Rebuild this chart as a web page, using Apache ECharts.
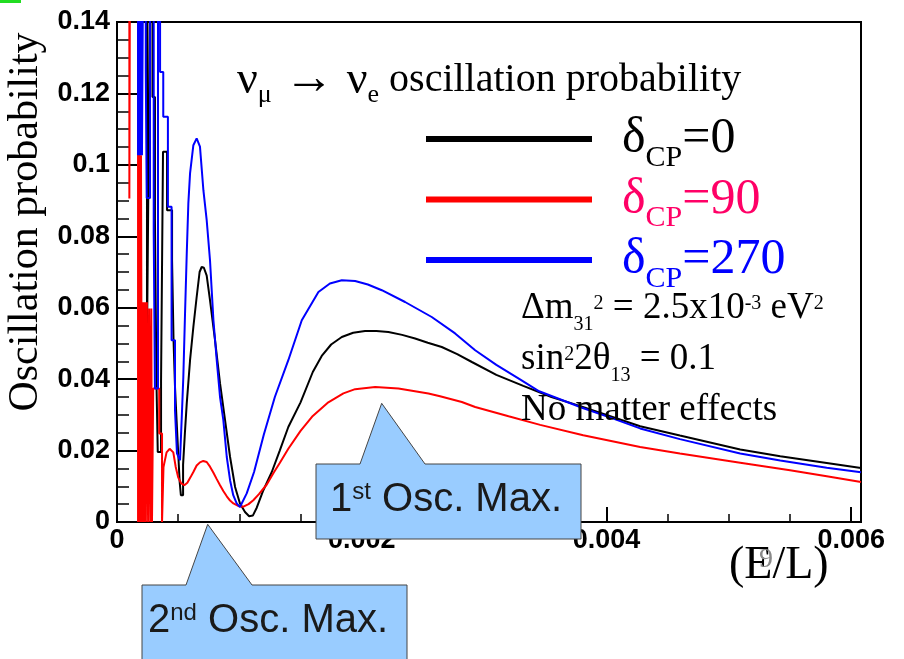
<!DOCTYPE html>
<html>
<head>
<meta charset="utf-8">
<title>nu_mu -> nu_e oscillation probability</title>
<script src="https://cdn.jsdelivr.net/npm/echarts@6/dist/echarts.min.js"></script>
<style>
  html, body { margin: 0; padding: 0; background: #fff; }
  #chart { width: 904px; height: 659px; }
</style>
</head>
<body>
<div id="chart"></div>
<script>
// x = E/L, y = oscillation probability (ROOT step histograms)
const seriesNames = ['δCP=0', 'δCP=90', 'δCP=270']

const curveCP0 = [
  [0, 0.16], [0.000245, 0.16], [0.000245, 0.0495], [0.000255, 0.0495], [0.000255, 0.0887], [0.00027, 0.0887],
  [0.00027, 0.16], [0.00029, 0.16], [0.00029, 0.119], [0.00031, 0.119], [0.00031, 0.085], [0.000322, 0.085],
  [0.000322, 0.0402], [0.000333, 0.0402], [0.000333, 0.0196], [0.00036, 0.0196], [0.00036, 0.0392], [0.000376, 0.0392],
  [0.000376, 0.1037], [0.000409, 0.1037], [0.000409, 0.0873], [0.00045, 0.0873], [0.00045, 0.0733], [0.000462, 0.0733],
  [0.000462, 0.0509], [0.000474, 0.0509], [0.000474, 0.0378], [0.000487, 0.0378], [0.000487, 0.0285], [0.000499, 0.0285],
  [0.000499, 0.0201], [0.000512, 0.0201], [0.000512, 0.0113], [0.000522, 0.0113], [0.000522, 0.0075], [0.00054, 0.0075],
  [0.00054, 0.016], [0.000555, 0.025], [0.00057, 0.0332], [0.000597, 0.0453], [0.000624, 0.0546], [0.000651, 0.063],
  [0.000675, 0.07], [0.000692, 0.0714], [0.00071, 0.0712], [0.000733, 0.069], [0.00076, 0.0621], [0.000801, 0.0509],
  [0.000842, 0.0388], [0.000883, 0.0285], [0.000924, 0.0182], [0.000965, 0.0098], [0.001005, 0.0052], [0.001046, 0.0028],
  [0.00108, 0.0016], [0.00111, 0.0018], [0.001142, 0.004], [0.001196, 0.0089], [0.001265, 0.014], [0.00133, 0.02],
  [0.0014, 0.0266], [0.0015, 0.0335], [0.0016, 0.042], [0.001673, 0.0465], [0.00175, 0.0497], [0.001837, 0.0518],
  [0.00193, 0.053], [0.002027, 0.0535], [0.00212, 0.0535], [0.002218, 0.0532], [0.00233, 0.0524], [0.002436, 0.0514],
  [0.00254, 0.0502], [0.002654, 0.049], [0.00278, 0.047], [0.0029, 0.0448], [0.0031, 0.0412], [0.00332, 0.0381],
  [0.00355, 0.035], [0.0038, 0.0323], [0.00405, 0.0294], [0.004275, 0.0268], [0.0046, 0.0242], [0.005093, 0.0203],
  [0.00542, 0.0184], [0.0058, 0.0165], [0.00608, 0.0151]
]

const curveCP90 = [
  [0, 0.16], [0.000101, 0.16], [0.000101, 0.0906], [0.000106, 0.0906], [0.000106, 0.16], [0.000172, 0.16],
  [0.000172, 0], [0.00018, 0], [0.00018, 0.16], [0.000188, 0.16], [0.000188, 0], [0.000196, 0],
  [0.000196, 0.1027], [0.000204, 0.1027], [0.000204, 0], [0.000212, 0], [0.000212, 0.0615], [0.00022, 0.0615],
  [0.00022, 0], [0.000228, 0], [0.000228, 0.0615], [0.000236, 0.0615], [0.000236, 0], [0.000244, 0],
  [0.000244, 0.0615], [0.000254, 0.0615], [0.000254, 0], [0.000262, 0], [0.000262, 0.0598], [0.000272, 0.0598],
  [0.000272, 0], [0.00028, 0], [0.00028, 0.0598], [0.000286, 0.0598], [0.000286, 0], [0.000296, 0],
  [0.000296, 0.0374], [0.000345, 0.0374], [0.000345, 0.0248], [0.000368, 0.0248], [0.000368, 0], [0.00038, 0],
  [0.00038, 0.0154], [0.000405, 0.0195], [0.00043, 0.0205], [0.00046, 0.0195], [0.00048, 0.0154], [0.0005, 0.0125],
  [0.000525, 0.0108], [0.00055, 0.0103], [0.000575, 0.011], [0.0006, 0.0125], [0.000624, 0.014], [0.000651, 0.0158],
  [0.000678, 0.0167], [0.000705, 0.0171], [0.000733, 0.0168], [0.00076, 0.0155], [0.000788, 0.0138], [0.000815, 0.012],
  [0.000842, 0.0103], [0.00087, 0.0086], [0.000897, 0.0072], [0.000924, 0.006], [0.000951, 0.0052], [0.00099, 0.0045],
  [0.001033, 0.0043], [0.001075, 0.005], [0.001114, 0.0061], [0.00116, 0.0078], [0.001224, 0.0105], [0.00128, 0.0138],
  [0.00133, 0.0165], [0.0014, 0.0205], [0.0015, 0.0255], [0.0016, 0.0297], [0.001727, 0.0335], [0.00185, 0.036],
  [0.001946, 0.0372], [0.00211, 0.0378], [0.0023, 0.0374], [0.002545, 0.036], [0.00264, 0.0352], [0.002818, 0.0336],
  [0.002927, 0.0322], [0.0032, 0.0296], [0.003458, 0.0272], [0.00381, 0.0243], [0.004275, 0.021], [0.0046, 0.0192],
  [0.005093, 0.0166], [0.0055, 0.0145], [0.0058, 0.0128], [0.00608, 0.0112]
]

const curveCP270 = [
  [0, 0.16], [0.000172, 0.16], [0.000172, 0.1027], [0.00018, 0.1027], [0.00018, 0.16], [0.000188, 0.16],
  [0.000188, 0.1027], [0.000196, 0.1027], [0.000196, 0.16], [0.000204, 0.16], [0.000204, 0.1027], [0.000214, 0.1027],
  [0.000214, 0.16], [0.000235, 0.16], [0.000235, 0.127], [0.000243, 0.127], [0.000243, 0.0907], [0.00027, 0.0907],
  [0.00027, 0.16], [0.0003, 0.16], [0.0003, 0.0813], [0.00031, 0.0813], [0.00031, 0.0374], [0.000335, 0.0374],
  [0.000335, 0.16], [0.000352, 0.16], [0.000352, 0.126], [0.000378, 0.126], [0.000378, 0.1135], [0.000416, 0.1135],
  [0.000416, 0.0883], [0.000446, 0.0883], [0.000446, 0.0509], [0.000474, 0.0509], [0.000474, 0.0313], [0.00049, 0.0313],
  [0.00049, 0.0192], [0.000515, 0.0173], [0.00053, 0.03], [0.000542, 0.0406], [0.000556, 0.0584], [0.00057, 0.0752],
  [0.000583, 0.0892], [0.000597, 0.0976], [0.000624, 0.1055], [0.000651, 0.1074], [0.000678, 0.1051], [0.000706, 0.0929],
  [0.000733, 0.0845], [0.00076, 0.0733], [0.000788, 0.0565], [0.000815, 0.0453], [0.000842, 0.035], [0.000869, 0.0285],
  [0.000897, 0.0182], [0.000924, 0.0117], [0.00095, 0.0075], [0.000978, 0.0052], [0.001005, 0.0042], [0.00106, 0.008],
  [0.00112, 0.014], [0.0012, 0.0245], [0.00129, 0.035], [0.0014, 0.0453], [0.00151, 0.0565], [0.001646, 0.0644],
  [0.00174, 0.0668], [0.001837, 0.0677], [0.001946, 0.0675], [0.00205, 0.0665], [0.002164, 0.0649], [0.002354, 0.0616],
  [0.002572, 0.0574], [0.002763, 0.0528], [0.002927, 0.0481], [0.0031, 0.044], [0.0033, 0.0398], [0.00345, 0.0366],
  [0.0038, 0.032], [0.00405, 0.029], [0.004275, 0.0262], [0.0046, 0.0232], [0.005093, 0.0192], [0.00542, 0.0172],
  [0.0058, 0.0152], [0.00608, 0.0139]
]

const xMajorTicks = [0, 0.002, 0.004, 0.006]
const xMajorLabels = ['0', '0.002', '0.004', '0.006']
const yTickLabels = ['0', '0.02', '0.04', '0.06', '0.08', '0.1', '0.12', '0.14']

const serif = "'Liberation Serif', 'Times New Roman', serif"
const sans = "'Liberation Sans', Arial, sans-serif"
const lineColors = ['#000000', '#ff0000', '#0000ff']
const legendTextColors = ['#000000', '#ff0066', '#0000ff']

const chart = echarts.init(document.getElementById('chart'))

const xLabel = v => {
  const i = xMajorTicks.findIndex(t => Math.abs(t - v) < 1e-9)
  return i >= 0 ? xMajorLabels[i] : ''
}

// rich styles for the legend entries (one set per colour)
const legendRich = {}
legendTextColors.forEach((c, i) => {
  legendRich['m' + i] = { fontFamily: serif, fontSize: 50, lineHeight: 56, color: c }
  legendRich['s' + i] = { fontFamily: serif, fontSize: 30, lineHeight: 56, color: c, padding: [38, 0, 0, 0] }
})

const callout = (pts, z) => ({
  type: 'polygon',
  z: z,
  shape: { points: pts },
  style: { fill: '#99ccff', stroke: '#454545', lineWidth: 1 }
})

chart.setOption({
  animation: false,
  backgroundColor: '#fff',
  grid: {
    left: 117, top: 22, right: 43, bottom: 137,
    outerBoundsMode: 'none',
    containLabel: false,
    show: true, borderColor: '#000', borderWidth: 2, backgroundColor: 'transparent'
  },
  legend: {
    orient: 'vertical',
    left: 426,
    top: 105,
    padding: 0,
    itemGap: -7.5,
    itemWidth: 166,
    itemHeight: 6,
    icon: 'rect',
    selectedMode: false,
    data: seriesNames,
    formatter: name => {
      const i = seriesNames.indexOf(name)
      const val = name.split('=')[1]
      return `{m${i}|δ}{s${i}|CP}{m${i}|=${val}}`
    },
    textStyle: { fontFamily: serif, padding: [0, 0, 0, 25], rich: legendRich }
  },
  xAxis: [
    {
      // minor ticks every 0.0005
      type: 'value', position: 'bottom', min: 0, max: 0.00608, interval: 0.0005,
      axisLine: { lineStyle: { color: '#000', width: 2 } },
      axisTick: { inside: true, length: 8, lineStyle: { color: '#000', width: 1.5 } },
      axisLabel: { show: false },
      splitLine: { show: false }
    },
    {
      type: 'value', position: 'bottom', min: 0, max: 0.00608, interval: 0.002,
      axisLine: { lineStyle: { color: '#000', width: 2 } },
      axisTick: { inside: true, length: 15, lineStyle: { color: '#000', width: 2 } },
      axisLabel: {
        color: '#000', fontFamily: sans, fontWeight: 'bold', fontSize: 27, margin: 5,
        formatter: xLabel
      },
      splitLine: { show: false }
    }
  ],
  yAxis: {
    type: 'value', min: 0, max: 0.14, interval: 0.02,
    axisLine: { show: true, lineStyle: { color: '#000', width: 2 } },
    axisTick: { show: true, inside: true, length: 20, lineStyle: { color: '#000', width: 2 } },
    minorTick: { show: true, splitNumber: 4, length: 12, lineStyle: { color: '#000', width: 1.5 } },
    splitLine: { show: false },
    axisLabel: {
      color: '#000', fontFamily: sans, fontWeight: 'bold', fontSize: 27, margin: 7,
      formatter: v => yTickLabels[Math.round(v / 0.02)]
    },
    name: 'Oscillation probability',
    nameLocation: 'middle',
    nameRotate: 90,
    nameGap: 60,
    nameTextStyle: { fontFamily: serif, fontSize: 42, color: '#000', padding: [0, 0, 0, 100] }
  },
  series: [curveCP0, curveCP90, curveCP270].map((d, i) => ({
    name: seriesNames[i],
    type: 'line',
    xAxisIndex: 0,
    data: d,
    symbol: 'none',
    clip: true,
    itemStyle: { color: lineColors[i] },
    lineStyle: { color: lineColors[i], width: 2 },
    z: 2 + i
  })),
  graphic: [
    { type: 'rect', z: 100, shape: { x: 0, y: 0, width: 21, height: 3 }, style: { fill: '#22dd22' } },
    {
      type: 'text', z: 100, left: 237, top: 53,
      style: {
        text: '{v|ν}{s|μ}{a| → }{v|ν}{s|e}{n| oscillation probability}',
        fill: '#000', fontFamily: serif, fontSize: 40,
        rich: {
          n: { fontFamily: serif, fontSize: 40, lineHeight: 46, fill: '#000' },
          v: { fontFamily: serif, fontSize: 46, lineHeight: 46, fill: '#000' },
          a: { fontFamily: serif, fontSize: 50, fontWeight: 'bold', lineHeight: 46, fill: '#000' },
          s: { fontFamily: serif, fontSize: 26, lineHeight: 46, fill: '#000', padding: [29, 0, 0, 0] }
        }
      }
    },
    {
      type: 'text', z: 100, left: 521, top: 282,
      style: {
        text: '{n|Δm}{s|31}{p|2}{n| = 2.5x10}{p|-3}{n| eV}{p|2}\n{n|sin}{p|2}{n|2θ}{s|13}{n| = 0.1}\n{n|No matter effects}',
        fill: '#000', fontFamily: serif, fontSize: 37,
        rich: {
          n: { fontFamily: serif, fontSize: 37, lineHeight: 51, fill: '#000' },
          s: { fontFamily: serif, fontSize: 20, lineHeight: 51, fill: '#000', padding: [33, 0, 0, 0] },
          p: { fontFamily: serif, fontSize: 20, lineHeight: 51, fill: '#000', padding: [0, 0, 10, 0] }
        }
      }
    },
    // x axis title
    {
      type: 'text', z: 100, left: 729, top: 543,
      style: { text: '(E/L)', fill: '#000', fontFamily: serif, fontSize: 46 }
    },
    callout([[316, 464], [360, 464], [381.7, 403.3], [425, 464], [581, 464], [581, 539], [316, 539]], 100),
    callout([[142, 585], [186, 585], [207.7, 524.3], [252, 585], [407, 585], [407, 680], [142, 680]], 100),
    {
      type: 'text', z: 101, left: 330, top: 480,
      style: {
        text: '{n|1}{p|st}{n| Osc. Max.}',
        fill: '#1a1a1a', fontFamily: sans, fontSize: 40,
        rich: {
          n: { fontFamily: sans, fontSize: 40, lineHeight: 46, fill: '#1a1a1a' },
          p: { fontFamily: sans, fontSize: 24, lineHeight: 46, fill: '#1a1a1a', padding: [0, 0, 15, 0] }
        }
      }
    },
    {
      type: 'text', z: 101, left: 148, top: 601,
      style: {
        text: '{n|2}{p|nd}{n| Osc. Max.}',
        fill: '#1a1a1a', fontFamily: sans, fontSize: 40,
        rich: {
          n: { fontFamily: sans, fontSize: 40, lineHeight: 46, fill: '#1a1a1a' },
          p: { fontFamily: sans, fontSize: 24, lineHeight: 46, fill: '#1a1a1a', padding: [0, 0, 15, 0] }
        }
      }
    },
    {
      type: 'text', z: 102, left: 759, top: 546,
      style: { text: '9', fill: '#8a8a8a', fontFamily: serif, fontSize: 28 }
    }
  ]
})
</script>
</body>
</html>
